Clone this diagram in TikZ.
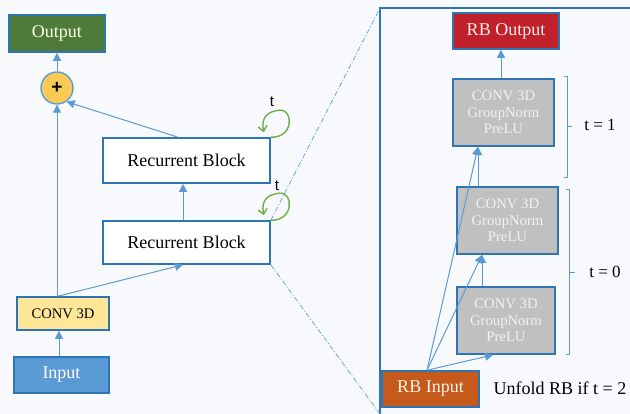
\documentclass[tikz,border=0pt]{standalone}
\usepackage{fontspec}
\setmainfont{Liberation Serif}
\newfontfamily\sansf{Liberation Sans}
\usetikzlibrary{arrows.meta,calc}
\definecolor{bg}{HTML}{F8F9FC}
\definecolor{bordc}{HTML}{2E75B6}
\definecolor{arrc}{HTML}{5B9BD5}
\definecolor{loopc}{HTML}{70AD47}
\definecolor{outg}{HTML}{4E7B39}
\definecolor{rbred}{HTML}{C0202A}
\definecolor{rborg}{HTML}{C55A1B}
\definecolor{inblue}{HTML}{5B9BD5}
\definecolor{convy}{HTML}{FFE699}
\definecolor{greyb}{HTML}{C0C0C0}
\definecolor{plusy}{HTML}{F9CB55}
\tikzset{
  box/.style={draw=bordc, line width=1.6pt, inner sep=0pt, align=center},
  arr/.style={draw=arrc, line width=1pt, -{Triangle[length=8pt,width=8pt]}},
  dashln/.style={draw=arrc, line width=0.7pt, dash pattern=on 5pt off 2pt on 1pt off 2pt},
  loopln/.style={draw=loopc, line width=1.4pt, -{Straight Barb[length=5pt,width=9pt]}},
  brk/.style={draw=arrc, line width=0.7pt},
  f18/.style={font={\fontsize{18}{21}\selectfont}},
  f15/.style={font={\fontsize{14.7}{16.5}\selectfont}},
  greybox/.style={box, fill=greyb, text=white!95!black, f15, line width=1.8pt}
}
\begin{document}
\begin{tikzpicture}[x=1pt,y=-1pt]
\useasboundingbox (0,0) rectangle (630,414);
\fill[bg] (0,0) rectangle (630,414);

% ---------- left part ----------
\node[box, fill=outg, text=yellow!10!white, f18, minimum width=96pt, minimum height=37pt] (output) at (57,33.5) {Output};
\node[circle, draw=arrc, line width=1.4pt, fill=plusy, minimum size=32pt, inner sep=0pt,
      font={\sansf\bfseries\fontsize{19}{19}\selectfont}] (plus) at (57,88) {+};
\node[box, fill=white, f18, minimum width=167pt, minimum height=45pt] (rb1) at (186.5,160.5) {Recurrent Block};
\node[box, fill=white, f18, minimum width=167pt, minimum height=43pt] (rb2) at (186.5,242.5) {Recurrent Block};
\node[box, fill=convy, font={\fontsize{14.6}{16}\selectfont}, minimum width=92pt, minimum height=33pt] (conv) at (63,313.5) {CONV 3D};
\node[box, fill=inblue, text=white, f18, minimum width=95pt, minimum height=36pt] (input) at (61.5,375) {Input};

% ---------- right panel ----------
\begin{scope}
\clip (0,0) rectangle (630,414);
\draw[bordc, line width=1.4pt] (380,8) rectangle (640,430);
\end{scope}
\coordinate (ptl) at (380,8);
\coordinate (pbl) at (380,414);

\draw[dashln] (rb2.north east) -- (ptl);
\draw[dashln] (rb2.south east) -- (pbl);

\node[box, fill=rbred, text=red!8!white, f18, minimum width=106pt, minimum height=36pt] (rbout) at (506,31) {RB Output};
\node[greybox, minimum width=101pt, minimum height=67pt] (ctop) at (503.5,112.5) {CONV 3D\\GroupNorm\\PreLU};
\node[greybox, minimum width=101pt, minimum height=67pt] (cmid) at (507.5,220.5) {CONV 3D\\GroupNorm\\PreLU};
\node[greybox, minimum width=98pt, minimum height=67pt] (cbot) at (506,320.5) {CONV 3D\\GroupNorm\\PreLU};
\node[box, fill=rborg, text=white!92!orange, f18, minimum width=97pt, minimum height=36pt] (rbin) at (430.5,389) {RB Input};
\node[f18, inner sep=0pt] (unfold) at (560,388) {Unfold RB if t = 2};

% ---------- left arrows ----------
\draw[arr] ([xshift=-2.5pt]input.north) -- ([xshift=-4pt]conv.south);
\draw[arr] (plus.south |- conv.north) -- (plus.south);
\draw[arr] ([xshift=-5pt]conv.north) -- ([xshift=-3.5pt]rb2.south);
\draw[arr] ([xshift=-3.5pt]rb2.north) -- ([xshift=-3.5pt]rb1.south);
\draw[arr] ([xshift=-8.5pt]rb1.north) -- (plus.-55);
\draw[arr] (plus.north) -- (output.south);

% loops
\begin{scope}[shift={(rb1.north east)}]
\draw[loopln] (0,0) .. controls (23,1) and (23,-28) .. (9,-27) .. controls (-3,-26) and (-10,-20) .. (-7,-5);
\end{scope}
\begin{scope}[shift={(rb2.north east)}]
\draw[loopln] (0,0) .. controls (23,1) and (23,-28) .. (9,-27) .. controls (-3,-26) and (-10,-20) .. (-7,-5);
\end{scope}
\node[font={\sansf\fontsize{15}{15}\selectfont}, inner sep=0pt] (tl1) at (272,102) {t};
\node[font={\sansf\fontsize{15}{15}\selectfont}, inner sep=0pt] (tl2) at (277,186) {t};

% ---------- right arrows ----------
\coordinate (src) at ([xshift=-3.5pt]rbin.north);
\coordinate (ctin) at ([xshift=-25.5pt]ctop.south);
\coordinate (cmin) at ([xshift=-25.5pt]cmid.south);
\coordinate (cbin) at ([xshift=-13pt]cbot.south);
\draw[arr] ([xshift=-2.5pt]ctop.north) -- ([xshift=-2.5pt]ctop.north |- rbout.south);
\draw[arr] (cmid.north -| ctin) -- (ctin);
\draw[arr] (cbot.north -| cmin) -- (cmin);
\draw[arr] (src) -- (cbin);
\draw[arr] (src) -- (cmin);
\draw[arr] (src) -- (ctin);

% brackets
\draw[brk] (564,76) -- (567,76) -- (567,177) -- (564,177);
\draw[brk] (567,126.5) -- (572,126.5);
\draw[brk] (566,189) -- (569,189) -- (569,354) -- (566,354);
\draw[brk] (569,272) -- (575,272);
\node[font={\fontsize{17}{19}\selectfont}, inner sep=0pt] (t1lab) at (600,125) {t = 1};
\node[font={\fontsize{17}{19}\selectfont}, inner sep=0pt] (t0lab) at (605,272) {t = 0};
\end{tikzpicture}
\end{document}
